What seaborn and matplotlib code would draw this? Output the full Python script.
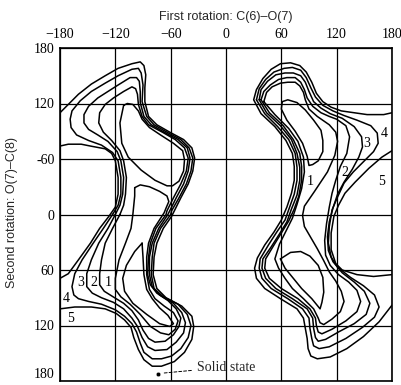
import matplotlib
matplotlib.use("Agg")
import matplotlib.pyplot as plt
import seaborn as sns
import pandas as pd

# contour lines: (first rotation, second rotation) in degrees
# left-hand well
left_outer = [(-180, -110), (-171, -119), (-160, -130), (-146, -141), (-131, -150), (-117, -158),
              (-102, -163), (-93, -165), (-89, -161), (-87, -151), (-88, -137), (-88, -122),
              (-84, -106), (-75, -97), (-61, -89), (-46, -81), (-37, -72), (-34, -61), (-36, -47),
              (-41, -33), (-49, -18), (-56, -4), (-59, 2), (-68, 15), (-75, 31), (-78, 46), (-79, 65),
              (-75, 80), (-65, 90), (-48, 99), (-37, 110), (-35, 121), (-37, 135), (-45, 149),
              (-56, 159), (-70, 164), (-80, 164), (-89, 157), (-95, 146), (-100, 133), (-103, 122),
              (-110, 114), (-119, 107), (-131, 102), (-146, 100), (-164, 100), (-180, 102)]
left_edge = [(-180, -74), (-171, -76), (-157, -76), (-147, -74), (-131, -71), (-124, -66), (-120, -58),
             (-117, -40), (-117, -22), (-120, -8), (-127, 2), (-137, 15), (-147, 31), (-160, 49),
             (-171, 64), (-180, 69)]
left_4 = [(-123, 0), (-117, -10), (-114, -22), (-114, -40), (-117, -58), (-123, -67), (-135, -75),
          (-149, -80), (-162, -86), (-168, -94), (-169, -103), (-167, -112), (-158, -123), (-146, -133),
          (-131, -142), (-117, -150), (-102, -157), (-95, -158), (-92, -153), (-90, -140), (-91, -122),
          (-86, -106), (-78, -97), (-64, -89), (-49, -81), (-40, -72), (-36, -61), (-38, -47), (-43, -33),
          (-51, -18), (-59, -4), (-60, 0), (-71, 15), (-78, 31), (-80, 46), (-81, 65), (-78, 80), (-68, 89),
          (-52, 97), (-42, 108), (-38, 120), (-41, 133), (-49, 145), (-59, 153), (-70, 156), (-80, 156),
          (-89, 149), (-93, 139), (-97, 127), (-102, 118), (-110, 110), (-120, 103), (-135, 97),
          (-149, 94), (-160, 91), (-165, 87), (-167, 78), (-164, 64), (-156, 49), (-144, 31), (-133, 15)]
left_3 = [(-120, 0), (-115, -10), (-112, -22), (-111, -40), (-114, -58), (-118, -68), (-128, -79),
          (-139, -86), (-149, -92), (-154, -99), (-154, -108), (-149, -117), (-139, -126), (-128, -133),
          (-117, -140), (-104, -148), (-97, -148), (-94, -144), (-93, -133), (-93, -121), (-89, -106),
          (-81, -97), (-67, -89), (-52, -81), (-42, -72), (-39, -61), (-41, -47), (-46, -33), (-54, -18),
          (-61, -4), (-63, 0), (-73, 15), (-80, 31), (-83, 46), (-83, 65), (-80, 78), (-72, 87), (-57, 96),
          (-48, 106), (-44, 117), (-46, 128), (-54, 138), (-64, 146), (-77, 147), (-85, 143), (-91, 133),
          (-96, 121), (-102, 112), (-111, 102), (-122, 95), (-135, 90), (-145, 85), (-151, 78),
          (-151, 64), (-146, 49), (-138, 31), (-128, 15)]
left_2 = [(-115, 0), (-111, -10), (-109, -22), (-108, -40), (-111, -58), (-115, -69), (-124, -80),
          (-133, -89), (-138, -99), (-137, -110), (-131, -119), (-122, -126), (-111, -133), (-102, -138),
          (-98, -136), (-96, -130), (-95, -119), (-91, -106), (-84, -97), (-69, -89), (-55, -81),
          (-45, -72), (-41, -61), (-43, -47), (-49, -33), (-57, -18), (-64, -4), (-65, 0), (-76, 15),
          (-82, 31), (-84, 46), (-85, 65), (-82, 76), (-75, 85), (-63, 93), (-54, 102), (-49, 112),
          (-51, 121), (-57, 130), (-66, 137), (-77, 138), (-84, 134), (-90, 125), (-95, 114), (-102, 104),
          (-111, 96), (-124, 88), (-132, 83), (-137, 76), (-137, 64), (-135, 49), (-131, 31), (-123, 15)]
left_1 = [(-99, -29), (-93, -32), (-83, -30), (-72, -25), (-64, -20), (-62, -14), (-65, -7), (-67, -2),
          (-78, 15), (-84, 31), (-86, 46), (-86, 65), (-83, 81), (-77, 91), (-67, 99), (-57, 106),
          (-52, 115), (-55, 124), (-62, 130), (-71, 128), (-82, 121), (-93, 108), (-104, 97), (-114, 89),
          (-120, 81), (-120, 69), (-116, 49), (-109, 31), (-103, 15), (-101, 0), (-100, -10), (-99, -20)]
left_core_a = [(-111, -118), (-115, -99), (-113, -77), (-106, -62), (-92, -48), (-77, -37), (-64, -31),
               (-58, -31), (-51, -36), (-46, -47), (-45, -59), (-47, -69), (-57, -77), (-71, -86),
               (-83, -94), (-91, -103), (-95, -112), (-101, -119), (-107, -120)]
left_core_b = [(-91, 31), (-99, 40), (-108, 55), (-112, 69), (-110, 83), (-101, 96), (-86, 108),
               (-72, 118), (-61, 121), (-57, 118), (-63, 109), (-72, 101), (-80, 91), (-86, 81),
               (-89, 65), (-90, 46)]

# right-hand well
right_outer = [(180, -110), (171, -108), (153, -108), (139, -110), (125, -112), (114, -116), (105, -122),
               (98, -131), (93, -143), (87, -154), (80, -161), (70, -164), (59, -163), (49, -157),
               (40, -147), (33, -135), (30, -124), (38, -109), (53, -95), (65, -80), (72, -66), (74, -52),
               (74, -37), (71, -23), (66, -8), (60, 6), (52, 19), (42, 33), (34, 47), (31, 58), (33, 69),
               (42, 80), (59, 91), (77, 102), (84, 112), (86, 123), (88, 134), (89, 145), (92, 153),
               (99, 156), (113, 154), (131, 145), (149, 132), (166, 116), (180, 98)]
right_edge = [(180, -69), (169, -62), (155, -50), (140, -35), (129, -23), (122, -10), (117, 2), (114, 20),
              (114, 38), (119, 53), (126, 60), (142, 65), (160, 67), (180, 65)]
right_4 = [(33, -124), (36, -136), (43, -146), (52, -154), (63, -158), (72, -159), (81, -156), (87, -148),
           (92, -137), (97, -127), (105, -118), (116, -112), (128, -107), (142, -102), (157, -96),
           (164, -88), (165, -77), (160, -68), (150, -58), (138, -46), (128, -34), (121, -19), (115, -5),
           (112, 13), (111, 31), (114, 46), (121, 57), (135, 68), (149, 77), (161, 87), (166, 100),
           (161, 111), (148, 122), (130, 134), (112, 143), (101, 145), (95, 142), (93, 134), (91, 123),
           (90, 112), (83, 102), (67, 91), (49, 80), (39, 69), (36, 58), (37, 48), (46, 33), (55, 19),
           (64, 6), (69, -8), (74, -22), (77, -37), (77, -51), (75, -66), (68, -81), (56, -95), (42, -109)]
right_3 = [(36, -124), (38, -135), (45, -144), (54, -151), (64, -153), (73, -153), (81, -150), (86, -143),
           (90, -133), (95, -122), (103, -115), (113, -109), (126, -104), (139, -95), (147, -84),
           (148, -73), (144, -62), (137, -49), (128, -35), (121, -22), (116, -7), (112, 8), (110, 24),
           (111, 39), (116, 51), (126, 63), (139, 73), (150, 83), (156, 96), (152, 108), (139, 118),
           (122, 127), (108, 135), (100, 137), (97, 133), (95, 123), (94, 112), (88, 102), (72, 91),
           (54, 80), (43, 69), (39, 58), (40, 48), (49, 35), (58, 21), (66, 8), (71, -6), (77, -21),
           (80, -37), (80, -51), (77, -66), (71, -81), (59, -96), (44, -110)]
right_2 = [(38, -124), (41, -133), (48, -140), (57, -146), (66, -148), (75, -148), (81, -143), (85, -135),
           (88, -126), (94, -117), (103, -110), (112, -106), (120, -103), (130, -96), (134, -84),
           (131, -66), (124, -52), (119, -37), (115, -23), (112, -8), (109, 10), (107, 28), (108, 44),
           (113, 55), (122, 65), (133, 73), (142, 82), (146, 94), (142, 105), (130, 115), (115, 124),
           (104, 129), (100, 127), (98, 120), (97, 112), (91, 102), (78, 91), (60, 80), (47, 69),
           (42, 58), (43, 48), (52, 33), (60, 20), (68, 7), (74, -6), (79, -20), (82, -37), (82, -52),
           (80, -66), (73, -81), (62, -96), (47, -110)]
right_1 = [(41, -122), (44, -132), (50, -138), (59, -142), (67, -143), (75, -143), (80, -139), (84, -132),
           (86, -124), (90, -114), (99, -106), (112, -97), (119, -89), (121, -79), (118, -64), (110, -46),
           (96, -25), (85, -9), (83, 1), (85, 13), (92, 25), (99, 37), (106, 50), (112, 62), (119, 72),
           (125, 83), (128, 94), (124, 105), (115, 113), (106, 119), (102, 117), (100, 112), (95, 102),
           (84, 91), (72, 80), (64, 69), (57, 58), (53, 48), (58, 32), (65, 18), (72, 4), (77, -11),
           (82, -28), (85, -46), (84, -62), (78, -79), (68, -93), (53, -108)]
right_core_a = [(61, -122), (60, -114), (66, -102), (75, -90), (83, -77), (88, -63), (90, -53), (94, -54),
                (100, -58), (105, -68), (105, -80), (103, -91), (95, -102), (86, -113), (77, -121),
                (67, -124)]
right_core_b = [(59, 48), (70, 41), (81, 40), (91, 45), (100, 55), (105, 68), (106, 84), (104, 95),
                (102, 102), (93, 91), (82, 80), (73, 69), (64, 58)]

open_lines = [left_outer, left_edge, right_outer, right_edge]
closed_lines = [left_4, left_3, left_2, left_1, left_core_a, left_core_b,
                right_4, right_3, right_2, right_1, right_core_a, right_core_b]

# region numbers written on the map
label_text = ['3', '2', '1', '4', '5', '1', '2', '3', '4', '5']
label_x = [-158, -143, -128, -173, -169, 91, 129, 153, 172, 169]
label_y = [74, 74, 74, 91, 112, -36, -45, -77, -88, -36]

solid_state = (-74, 172)

ticks = [-180, -120, -60, 0, 60, 120, 180]
top_labels = ['\u2212180', '\u2212120', '\u221260', '0', '60', '120', '180']
left_labels = ['180', '120', '-60', '0', '60', '120', '180']

sns.set_theme(style="white")
plt.rcParams['font.family'] = ['Liberation Serif', 'DejaVu Serif']

fig = plt.figure(figsize=(4.01, 3.85), dpi=100)
ax = fig.add_axes([60 / 401, 4 / 385, 332 / 401, 333 / 385])

for i, line in enumerate(open_lines + closed_lines):
    pts = list(line)
    if i >= len(open_lines):
        pts = pts + [pts[0]]
    df = pd.DataFrame(pts, columns=['phi', 'psi'])
    sns.lineplot(data=df, x='phi', y='psi', sort=False, estimator=None,
                 color='black', linewidth=1.1, ax=ax)

for t, x, y in zip(label_text, label_x, label_y):
    ax.text(x, y, t, ha='center', va='center', fontsize=10, color='black')

sns.scatterplot(x=[solid_state[0]], y=[solid_state[1]], color='black', s=10, ax=ax, zorder=5)
ax.annotate('Solid state', xy=solid_state, xytext=(-31, 165), fontsize=10,
            ha='left', va='center',
            arrowprops=dict(arrowstyle='-', linestyle=(0, (3, 2)), color='black', lw=0.7,
                            shrinkA=2, shrinkB=4))

ax.set_xlim(-180, 180)
ax.set_ylim(180, -180)
ax.set_xticks(ticks)
ax.set_yticks(ticks)
ax.xaxis.tick_top()
ax.set_xticklabels(top_labels)
ax.set_yticklabels(left_labels)
ax.tick_params(axis='both', length=0, labelsize=10, colors='black')
ax.tick_params(axis='x', pad=5)
ax.tick_params(axis='y', pad=4)
# bottom label sits at the lower edge; keep it inside the picture
ax.get_yticklabels()[-1].set_verticalalignment('bottom')
ax.set_xlabel('')
ax.set_ylabel('')
ax.grid(True, color='black', linewidth=0.9)
for s in ax.spines.values():
    s.set_color('black')
    s.set_linewidth(1.2)

fig.text(226 / 401, 1 - 17 / 385, 'First rotation: C(6)\u2013O(7)', ha='center', va='center',
         fontsize=9, family=['Liberation Sans', 'DejaVu Sans'])
fig.text(12 / 401, 1 - 212 / 385, 'Second rotation: O(7)\u2013C(8)', ha='center', va='center',
         rotation=90, fontsize=9, family=['Liberation Sans', 'DejaVu Sans'])

fig.savefig('out.png', dpi=100, facecolor='white')
